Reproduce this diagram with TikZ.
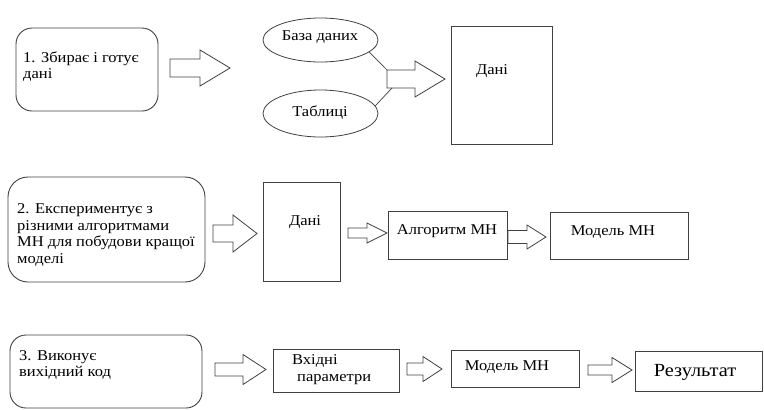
\documentclass[tikz,border=0pt]{standalone}
\usepackage{fontspec}
\setmainfont{Liberation Serif}[FakeStretch=1.1]
\usepackage{tikz}
\usetikzlibrary{positioning,calc,shapes.geometric}
\definecolor{LineGrey}{RGB}{64,64,64}

\tikzset{
  stepcard/.style={draw=LineGrey,line width=0.9pt,rounded corners=16pt,inner sep=0pt},
  plainbox/.style={draw=LineGrey,line width=0.9pt,inner sep=0pt},
  dbell/.style={ellipse,draw=LineGrey,line width=0.8pt,inner sep=0pt},
  txt/.style={inner sep=0pt,font=\fontsize{15}{16.7}\selectfont,align=left},
  arrline/.style={draw=LineGrey,line width=0.8pt,line join=miter}
}
% tail point, shaft half, head half, shaft length, head length
\newcommand\blockarrow[5]{%
  \draw[arrline] ($(#1)+(0,-#2)$) -- ++(#4,0) -- ++(0,#2-#3) -- ++(#5,#3)
    -- ++(-#5,#3) -- ++(0,#2-#3) -- ++(-#4,0) -- cycle;}

\begin{document}
\begin{tikzpicture}[x=1pt,y=-1pt]
    \useasboundingbox (0,0) rectangle (764,410);
    % row 1
    \node[stepcard,minimum width=142,minimum height=83] (card1) at (87,69.5) {};
    \node[txt,anchor=west] (card1txt) at (23,66.5) {1. Збирає і готує\\дані};
    \coordinate (arrA) at (170,68);
    \blockarrow{arrA}{9}{18}{30}{30}
    \node[dbell,minimum width=115,minimum height=44] (dbase) at (320.5,40) {};
    \node[txt] (dbasetxt) at (320,37) {База даних};
    \node[dbell,minimum width=115,minimum height=47] (tables) at (320.5,113.5) {};
    \node[txt] (tablestxt) at (320,113) {Таблиці};
    \coordinate (arrB) at (387,79);
    \blockarrow{arrB}{9}{18}{28}{30}
    \draw[LineGrey,line width=0.7pt] (dbase.-14) -- ($(arrB)+(0,-9)$);
    \draw[LineGrey,line width=0.7pt] (tables.8) -- ($(arrB)+(5,9)$);
    \node[plainbox,minimum width=101,minimum height=118] (dataA) at (501.5,85) {};
    \node[txt] (dataAtxt) at (492,71) {Дані};

    % row 2
    \node[stepcard,rounded corners=20pt,minimum width=197,minimum height=105] (card2) at (106.5,229.5) {};
    \node[txt,anchor=west] (card2txt) at (17,235) {2. Експериментує з\\різними алгоритмами\\МН для побудови кращої\\моделі};
    \coordinate (arrC) at (213,233.5);
    \blockarrow{arrC}{8.5}{18.5}{20}{24}
    \node[plainbox,minimum width=77,minimum height=99] (dataB) at (301.5,231.5) {};
    \node[txt] (dataBtxt) at (305,222) {Дані};
    \coordinate (arrD) at (348,233);
    \blockarrow{arrD}{5}{10}{19}{20}
    \node[plainbox,minimum width=119,minimum height=48] (algo) at (447.5,235) {};
    \node[txt] (algotxt) at (447,231) {Алгоритм МН};
    \coordinate (arrE) at (508,237);
    \blockarrow{arrE}{6.5}{12}{19}{19}
    \node[plainbox,minimum width=138,minimum height=47] (modelA) at (619,235.5) {};
    \node[txt] (modelAtxt) at (613,232) {Модель МН};

    % row 3
    \node[stepcard,rounded corners=16pt,minimum width=192,minimum height=73] (card3) at (106,371.5) {};
    \node[txt,anchor=west] (card3txt) at (19,365) {3. Виконує\\вихідний код};
    \coordinate (arrF) at (215,369.5);
    \blockarrow{arrF}{6.5}{15}{28}{23}
    \node[plainbox,minimum width=126,minimum height=43] (inputs) at (336,370.5) {};
    \node[txt,anchor=west] (inputstxt) at (292,369.5) {Вхідні\\\hspace*{5pt}параметри};
    \coordinate (arrG) at (407,369);
    \blockarrow{arrG}{6}{12.5}{16}{19}
    \node[plainbox,minimum width=128,minimum height=37] (modelB) at (515,368.5) {};
    \node[txt] (modelBtxt) at (507,367) {Модель МН};
    \coordinate (arrH) at (588,370);
    \blockarrow{arrH}{5}{12.5}{24}{20}
    \node[plainbox,minimum width=127,minimum height=40] (result) at (698.5,371) {};
    \node[txt,font=\fontsize{18.5}{20}\selectfont] (resulttxt) at (695,372) {Результат};
  \end{tikzpicture}
\end{document}
